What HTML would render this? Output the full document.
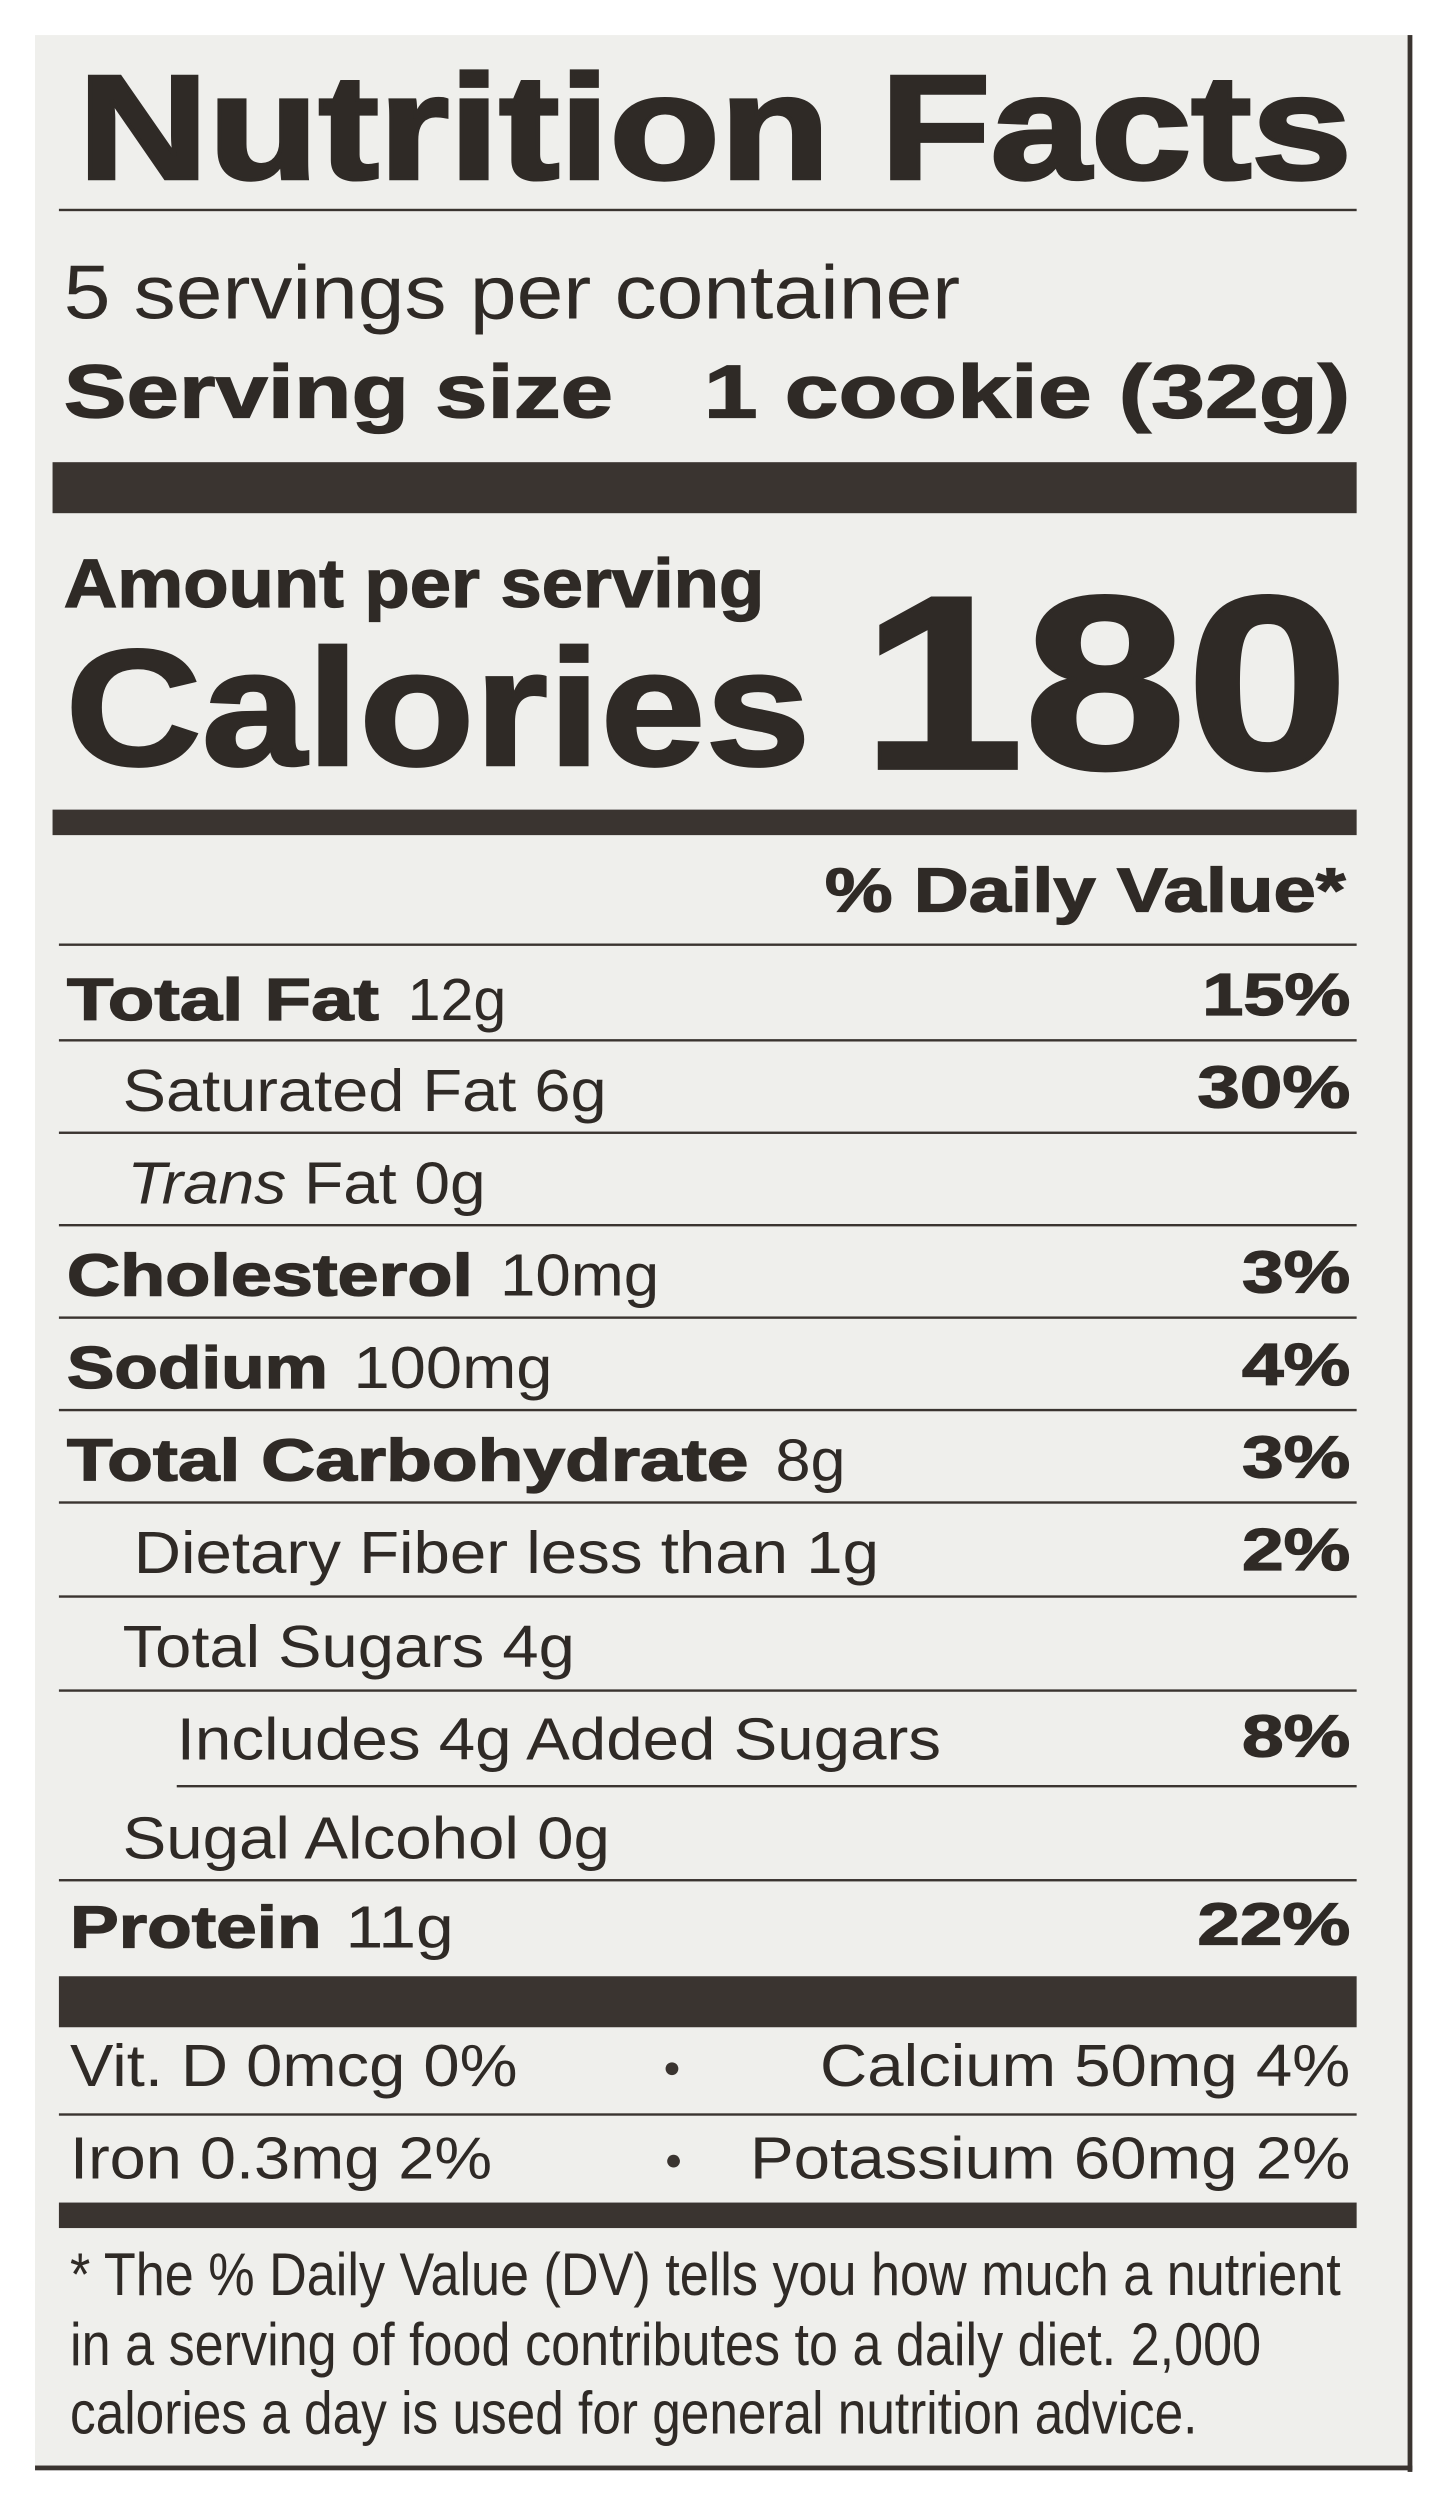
<!DOCTYPE html>
<html><head><meta charset="utf-8"><style>
html,body{margin:0;padding:0;background:#fff;}
svg{display:block;}
text{font-family:"Liberation Sans",Arial,sans-serif;fill:#2f2a26;}
.b{font-weight:bold;stroke:#2f2a26;stroke-width:0.8;}
.h{stroke-width:2.2;}
.m{stroke-width:1.6;}
</style></head><body>
<svg width="1449" height="2499" viewBox="0 0 910 1568" preserveAspectRatio="none" xmlns="http://www.w3.org/2000/svg">
<rect x="0" y="0" width="910" height="1568" fill="#ffffff"/>
<rect x="22" y="22" width="864" height="1528" fill="#efefec"/>
<rect x="884" y="22" width="3" height="1529" fill="#3a3430"/>
<rect x="22" y="1547" width="865" height="3" fill="#3a3430"/>
<g fill="#3a3430">
<rect x="37" y="131" width="815" height="1.5"/>
<rect x="33" y="290" width="819" height="32"/>
<rect x="33" y="508" width="819" height="16"/>
<rect x="37" y="592" width="815" height="1.5"/>
<rect x="37" y="652" width="815" height="1.5"/>
<rect x="37" y="710" width="815" height="1.5"/>
<rect x="37" y="768" width="815" height="1.5"/>
<rect x="37" y="826" width="815" height="1.5"/>
<rect x="37" y="884" width="815" height="1.5"/>
<rect x="37" y="942" width="815" height="1.5"/>
<rect x="37" y="1001" width="815" height="1.5"/>
<rect x="37" y="1060" width="815" height="1.5"/>
<rect x="111" y="1120" width="741" height="1.5"/>
<rect x="37" y="1179" width="815" height="1.5"/>
<rect x="37" y="1240" width="815" height="32"/>
<rect x="37" y="1326" width="815" height="1.5"/>
<rect x="37" y="1382" width="815" height="16"/>
</g>
<text class="b h" x="49" y="112" font-size="93" textLength="800" lengthAdjust="spacingAndGlyphs">Nutrition Facts</text>
<text x="40" y="200" font-size="48" textLength="563" lengthAdjust="spacingAndGlyphs">5 servings per container</text>
<text class="b" x="40" y="262" font-size="47" textLength="345" lengthAdjust="spacingAndGlyphs">Serving size</text>
<text class="b" x="442" y="262" font-size="47" textLength="406" lengthAdjust="spacingAndGlyphs">1 cookie (32g)</text>
<text class="b" x="40" y="381" font-size="43" textLength="440" lengthAdjust="spacingAndGlyphs">Amount per serving</text>
<text class="b m" x="41" y="480" font-size="104" textLength="468" lengthAdjust="spacingAndGlyphs">Calories</text>
<text class="b h" x="541" y="482" font-size="155" textLength="306" lengthAdjust="spacingAndGlyphs">180</text>
<text class="b" x="518" y="572" font-size="39" textLength="327" lengthAdjust="spacingAndGlyphs">% Daily Value*</text>

<text class="b" x="42" y="640" font-size="37" textLength="196" lengthAdjust="spacingAndGlyphs">Total Fat</text>
<text x="256" y="640" font-size="37" textLength="62" lengthAdjust="spacingAndGlyphs">12g</text>
<text class="b" x="755" y="637" font-size="37" textLength="93" lengthAdjust="spacingAndGlyphs">15%</text>

<text x="77" y="697" font-size="37" textLength="304" lengthAdjust="spacingAndGlyphs">Saturated Fat 6g</text>
<text class="b" x="752" y="695" font-size="37" textLength="96" lengthAdjust="spacingAndGlyphs">30%</text>

<text x="80" y="755" font-size="37" textLength="225" lengthAdjust="spacingAndGlyphs"><tspan font-style="italic">Trans</tspan> Fat 0g</text>

<text class="b" x="42" y="813" font-size="37" textLength="255" lengthAdjust="spacingAndGlyphs">Cholesterol</text>
<text x="314" y="813" font-size="37" textLength="100" lengthAdjust="spacingAndGlyphs">10mg</text>
<text class="b" x="780" y="811" font-size="37" textLength="68" lengthAdjust="spacingAndGlyphs">3%</text>

<text class="b" x="42" y="871" font-size="37" textLength="164" lengthAdjust="spacingAndGlyphs">Sodium</text>
<text x="222" y="871" font-size="37" textLength="125" lengthAdjust="spacingAndGlyphs">100mg</text>
<text class="b" x="780" y="869" font-size="37" textLength="68" lengthAdjust="spacingAndGlyphs">4%</text>

<text class="b" x="42" y="929" font-size="37" textLength="428" lengthAdjust="spacingAndGlyphs">Total Carbohydrate</text>
<text x="487" y="929" font-size="37" textLength="44" lengthAdjust="spacingAndGlyphs">8g</text>
<text class="b" x="780" y="927" font-size="37" textLength="68" lengthAdjust="spacingAndGlyphs">3%</text>

<text x="84" y="987" font-size="37" textLength="468" lengthAdjust="spacingAndGlyphs">Dietary Fiber less than 1g</text>
<text class="b" x="780" y="985" font-size="37" textLength="68" lengthAdjust="spacingAndGlyphs">2%</text>

<text x="77" y="1046" font-size="37" textLength="284" lengthAdjust="spacingAndGlyphs">Total Sugars 4g</text>

<text x="111" y="1104" font-size="37" textLength="480" lengthAdjust="spacingAndGlyphs">Includes 4g Added Sugars</text>
<text class="b" x="780" y="1102" font-size="37" textLength="68" lengthAdjust="spacingAndGlyphs">8%</text>

<text x="77" y="1166" font-size="37" textLength="306" lengthAdjust="spacingAndGlyphs">Sugal Alcohol 0g</text>

<text class="b" x="44" y="1222" font-size="37" textLength="158" lengthAdjust="spacingAndGlyphs">Protein</text>
<text x="217" y="1222" font-size="37" textLength="68" lengthAdjust="spacingAndGlyphs">11g</text>
<text class="b" x="752" y="1220" font-size="37" textLength="96" lengthAdjust="spacingAndGlyphs">22%</text>

<text x="44" y="1309" font-size="37" textLength="281" lengthAdjust="spacingAndGlyphs">Vit. D 0mcg 0%</text>
<circle cx="422" cy="1298" r="4" fill="#3a3430"/>
<text x="515" y="1309" font-size="37" textLength="333" lengthAdjust="spacingAndGlyphs">Calcium 50mg 4%</text>

<text x="44" y="1367" font-size="37" textLength="265" lengthAdjust="spacingAndGlyphs">Iron 0.3mg 2%</text>
<circle cx="423" cy="1356" r="4" fill="#3a3430"/>
<text x="471" y="1367" font-size="37" textLength="377" lengthAdjust="spacingAndGlyphs">Potassium 60mg 2%</text>

<text x="44" y="1440" font-size="38" textLength="798" lengthAdjust="spacingAndGlyphs">* The % Daily Value (DV) tells you how much a nutrient</text>
<text x="44" y="1484" font-size="38" textLength="748" lengthAdjust="spacingAndGlyphs">in a serving of food contributes to a daily diet. 2,000</text>
<text x="44" y="1527" font-size="38" textLength="708" lengthAdjust="spacingAndGlyphs">calories a day is used for general nutrition advice.</text>
</svg>
</body></html>
